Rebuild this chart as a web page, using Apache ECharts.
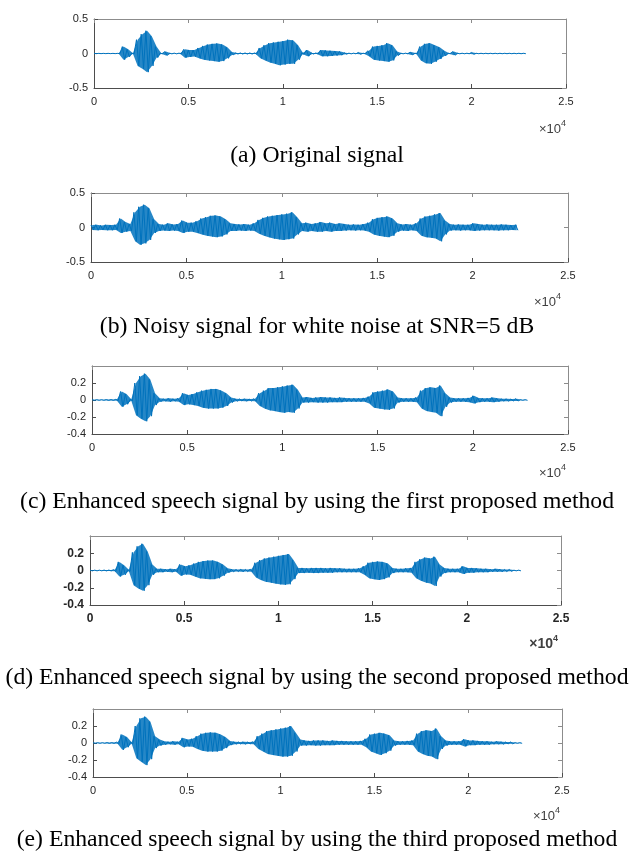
<!DOCTYPE html>
<html>
<head>
<meta charset="utf-8">
<script src="https://cdn.jsdelivr.net/npm/echarts@6/dist/echarts.min.js"></script>
<style>
  html, body { margin: 0; padding: 0; background: #fff; }
  #main { width: 632px; height: 852px; }
</style>
</head>
<body>
<div id="main"></div>
<script>
// envelope of each waveform, one value per block of BIN samples (max then min)
var BIN = 250;

var hiA = [.002,.002,.002,.002,.002,.002, .10,.06,.005, .20,.28,.33,.25,.10,
  .005,.03,.005,.005,.005, .06,.05,.05,.08,.11,.13,.14,.145,.13,.09,.02,
  .008,.008,.008,.008,.008, .08,.12,.15,.16,.17,.18,.20,.19,.12,
  .01,.05,.008,.008, .05,.045,.04,.035,.03,.01, .005,.005,.015,.005,
  .04,.10,.11,.12,.15,.12,.03, .005,.005,.02,.005, .10,.14,.15,.12,.09,.04,
  .005,.03,.004,.004,.004,.015, .003,.003,.003,.003,.003,.003,.003,.003,.003,.003,.003];
var loA = [-.002,-.002,-.002,-.002,-.002,-.002, -.09,-.05,-.005, -.18,-.22,-.27,-.18,-.06,
  -.005,-.03,-.005,-.005,-.005, -.06,-.05,-.045,-.07,-.09,-.10,-.11,-.12,-.11,-.07,-.02,
  -.008,-.008,-.008,-.008,-.008, -.07,-.10,-.13,-.15,-.17,-.16,-.15,-.15,-.09,
  -.01,-.04,-.008,-.008, -.04,-.04,-.035,-.03,-.025,-.01, -.005,-.005,-.012,-.005,
  -.04,-.09,-.10,-.11,-.12,-.10,-.03, -.005,-.005,-.02,-.005, -.10,-.14,-.15,-.12,-.08,-.035,
  -.005,-.025,-.004,-.004,-.004,-.012, -.003,-.003,-.003,-.003,-.003,-.003,-.003,-.003,-.003,-.003,-.003];

var hiB = [.035,.04,.03,.04,.035,.04, .13,.08, .05, .22,.30,.33,.28,.12,
  .05,.04,.06,.045,.05, .10,.07,.07,.09,.13,.15,.17,.175,.16,.12,.06,
  .05,.045,.05,.04,.06, .11,.14,.16,.17,.18,.19,.20,.22,.15,
  .06,.07,.05,.06, .08,.06,.07,.05,.06,.05, .04,.045,.04,.05,
  .07,.12,.14,.15,.16,.13,.06, .045,.05,.04,.06, .13,.16,.17,.19,.21,.10,
  .05,.04,.045,.04,.04,.06, .05,.04,.045,.04,.04,.045,.04,.035,.04];
var loB = [-.035,-.04,-.035,-.04,-.04,-.035, -.08,-.06, -.05, -.20,-.25,-.23,-.18,-.08,
  -.05,-.045,-.05,-.045,-.05, -.08,-.06,-.06,-.08,-.10,-.12,-.13,-.14,-.13,-.10,-.05,
  -.05,-.045,-.05,-.045,-.05, -.09,-.12,-.14,-.16,-.17,-.18,-.17,-.16,-.10,
  -.05,-.06,-.05,-.06, -.06,-.05,-.06,-.05,-.05,-.045, -.04,-.045,-.04,-.045,
  -.06,-.10,-.12,-.13,-.14,-.12,-.06, -.045,-.05,-.04,-.05, -.12,-.14,-.15,-.16,-.20,-.10,
  -.045,-.04,-.045,-.04,-.04,-.05, -.045,-.04,-.04,-.04,-.045,-.04,-.04,-.035,-.04];

var hiC = [.004,.004,.004,.005,.005,.008, .10,.07,.01, .20,.28,.31,.24,.08,
  .02,.015,.02,.015,.02, .08,.06,.07,.09,.11,.12,.13,.13,.11,.08,.03,
  .015,.012,.015,.012,.015, .08,.11,.14,.14,.15,.16,.17,.18,.12,
  .03,.035,.025,.03, .035,.03,.03,.025,.03,.025, .02,.02,.02,.025,
  .04,.09,.10,.11,.125,.10,.03, .02,.02,.02,.03, .11,.14,.15,.14,.17,.08,
  .03,.02,.02,.02,.025,.05, .025,.02,.02,.03,.02,.015,.015,.012,.015,.004,.004];
var loC = [-.004,-.004,-.004,-.005,-.005,-.008, -.08,-.05,-.01, -.18,-.22,-.25,-.19,-.06,
  -.02,-.015,-.02,-.015,-.02, -.06,-.05,-.06,-.07,-.09,-.10,-.10,-.10,-.09,-.07,-.03,
  -.015,-.012,-.015,-.012,-.015, -.07,-.10,-.12,-.13,-.14,-.15,-.14,-.15,-.10,
  -.03,-.03,-.025,-.03, -.03,-.03,-.025,-.025,-.025,-.02, -.02,-.02,-.02,-.02,
  -.04,-.09,-.10,-.11,-.115,-.10,-.03, -.02,-.02,-.02,-.025, -.10,-.13,-.14,-.15,-.19,-.08,
  -.03,-.02,-.02,-.02,-.025,-.04, -.025,-.02,-.02,-.025,-.02,-.015,-.015,-.012,-.012,-.004,-.004];

var hiD = [.004,.004,.004,.005,.005,.01, .10,.06,.01, .21,.28,.31,.22,.07,
  .02,.02,.015,.02,.015, .07,.05,.06,.08,.10,.11,.115,.115,.10,.07,.025,
  .015,.012,.015,.012,.015, .09,.12,.14,.15,.16,.17,.18,.19,.12,
  .03,.03,.025,.03, .03,.03,.025,.03,.025,.025, .02,.02,.02,.025,
  .05,.09,.10,.105,.10,.08,.03, .02,.02,.025,.03, .10,.13,.15,.14,.16,.07,
  .03,.02,.02,.02,.05,.03, .03,.025,.02,.02,.015,.02,.015,.012,.012,.004,.004];
var loD = [-.004,-.004,-.004,-.005,-.005,-.01, -.07,-.05,-.01, -.17,-.21,-.235,-.17,-.05,
  -.02,-.02,-.015,-.02,-.015, -.06,-.045,-.05,-.07,-.09,-.095,-.10,-.10,-.09,-.06,-.025,
  -.015,-.012,-.015,-.012,-.015, -.08,-.11,-.13,-.14,-.15,-.16,-.165,-.16,-.10,
  -.03,-.03,-.025,-.03, -.03,-.025,-.025,-.025,-.02,-.02, -.02,-.02,-.02,-.02,
  -.05,-.09,-.10,-.11,-.10,-.08,-.03, -.02,-.02,-.02,-.025, -.09,-.12,-.14,-.15,-.18,-.07,
  -.03,-.02,-.02,-.02,-.04,-.025, -.025,-.02,-.02,-.02,-.015,-.015,-.015,-.012,-.01,-.004,-.004];

var hiE = [.004,.004,.004,.005,.005,.01, .10,.07,.01, .20,.29,.31,.25,.08,
  .04,.02,.015,.02,.015, .06,.04,.05,.08,.11,.12,.125,.12,.10,.07,.025,
  .015,.012,.015,.012,.015, .08,.11,.14,.15,.16,.17,.18,.20,.12,
  .04,.03,.025,.03, .03,.03,.025,.03,.025,.025, .02,.02,.02,.025,
  .05,.10,.11,.12,.11,.09,.03, .02,.02,.025,.03, .11,.14,.15,.14,.17,.08,
  .03,.02,.02,.02,.045,.03, .03,.025,.02,.02,.015,.02,.015,.012,.012,.004,.004];
var loE = [-.004,-.004,-.004,-.005,-.005,-.01, -.08,-.05,-.01, -.18,-.22,-.26,-.19,-.06,
  -.03,-.02,-.015,-.02,-.015, -.05,-.04,-.045,-.07,-.09,-.10,-.10,-.10,-.09,-.06,-.025,
  -.015,-.012,-.015,-.012,-.015, -.07,-.10,-.13,-.14,-.15,-.16,-.16,-.15,-.10,
  -.03,-.03,-.025,-.03, -.03,-.025,-.025,-.025,-.02,-.02, -.02,-.02,-.02,-.02,
  -.05,-.10,-.12,-.14,-.12,-.09,-.03, -.02,-.02,-.02,-.025, -.10,-.13,-.15,-.16,-.19,-.07,
  -.03,-.02,-.02,-.02,-.04,-.025, -.025,-.02,-.02,-.02,-.015,-.015,-.015,-.012,-.01,-.004,-.004];

var captions = [
  '(a) Original signal',
  '(b) Noisy signal for white noise at SNR=5 dB',
  '(c) Enhanced speech signal by using the first proposed method',
  '(d) Enhanced speech signal by using the second proposed method',
  '(e) Enhanced speech signal by using the third proposed method'
];
var xTicks = [0, 5000, 10000, 15000, 20000, 25000];
var yTicksWide = [-0.5, 0, 0.5];
var yTicksNarrow = [-0.4, -0.2, 0, 0.2, 0.4];

(function(){
    var myChart = echarts.init(document.getElementById('main'));
    var BLUE = '#0072BD';
    var SANS = '"Liberation Sans", Arial, Helvetica, sans-serif';
    var SERIF = '"Liberation Serif", "Times New Roman", serif';

    var panels = [
        {hi: hiA, lo: loA, grid: {left: 94, top: 19, width: 472, height: 69}, y: yTicksWide, cap: 156, exp: [66, 119], bold: false},
        {hi: hiB, lo: loB, grid: {left: 91, top: 193, width: 477, height: 69}, y: yTicksWide, cap: 327, exp: [71, 292], bold: false},
        {hi: hiC, lo: loC, grid: {left: 92, top: 366, width: 476, height: 68}, y: yTicksNarrow, cap: 502, exp: [66, 463], bold: false},
        {hi: hiD, lo: loD, grid: {left: 90, top: 536, width: 471, height: 69}, y: yTicksNarrow, cap: 678, exp: [74, 634], bold: true},
        {hi: hiE, lo: loE, grid: {left: 93, top: 709, width: 469, height: 68}, y: yTicksNarrow, cap: 840, exp: [72, 806], bold: false}
    ];

    // zig-zag between the max and min of every block
    function wave(hi, lo) {
        var pts = [];
        for (var k = 0; k < hi.length; k++) {
            pts.push([k * BIN, hi[k]]);
            pts.push([k * BIN + BIN / 2, lo[k]]);
        }
        return pts;
    }

    // filled envelope polygon, placed through the axes of the series
    function envelope(hi, lo) {
        return function(params, api) {
            var pts = [], k;
            for (k = 0; k < hi.length; k++) pts.push(api.coord([k * BIN + BIN / 4, hi[k]]));
            for (k = lo.length - 1; k >= 0; k--) pts.push(api.coord([k * BIN + BIN / 4, lo[k]]));
            return {type: 'polygon', shape: {points: pts}, style: {fill: BLUE, opacity: 0.85}};
        };
    }

    var grid = [], xAxis = [], yAxis = [], series = [], title = [], graphic = [];

    panels.forEach(function(p, i){
        var fw = p.bold ? 'bold' : 'normal';
        var fs = p.bold ? 12 : 11;
        var ymin = p.y[0], ymax = p.y[p.y.length - 1], yint = p.y[1] - p.y[0];
        grid.push(p.grid);

        xAxis.push({
            type: 'value', gridIndex: i, min: xTicks[0], max: xTicks[xTicks.length - 1],
            interval: xTicks[1] - xTicks[0],
            axisLine: {onZero: false, lineStyle: {color: '#4d4d4d', width: 1}},
            axisTick: {inside: true, length: 4, lineStyle: {color: '#4d4d4d'}},
            splitLine: {show: false},
            axisLabel: {margin: 8, color: '#262626', fontSize: fs, fontWeight: fw, fontFamily: SANS,
                formatter: function(v){ return String(v / 10000); }}
        });
        xAxis.push({
            type: 'value', gridIndex: i, position: 'top', min: xTicks[0], max: xTicks[xTicks.length - 1],
            interval: xTicks[1] - xTicks[0],
            axisLine: {onZero: false, lineStyle: {color: '#8c8c8c', width: 1}},
            axisTick: {inside: true, length: 4, lineStyle: {color: '#8c8c8c'}},
            splitLine: {show: false},
            axisLabel: {show: false}
        });
        yAxis.push({
            type: 'value', gridIndex: i, min: ymin, max: ymax, interval: yint,
            axisLine: {show: true, onZero: false, lineStyle: {color: '#4d4d4d', width: 1}},
            axisTick: {show: true, inside: true, length: 4, lineStyle: {color: '#4d4d4d'}},
            splitLine: {show: false},
            axisLabel: {margin: 6, color: '#262626', fontSize: fs, fontWeight: fw, fontFamily: SANS,
                showMaxLabel: p.y.length < 4,
                formatter: function(v){ return String(Math.round(v * 10) / 10); }}
        });
        yAxis.push({
            type: 'value', gridIndex: i, position: 'right', min: ymin, max: ymax, interval: yint,
            axisLine: {show: true, onZero: false, lineStyle: {color: '#8c8c8c', width: 1}},
            axisTick: {show: true, inside: true, length: 4, lineStyle: {color: '#8c8c8c'}},
            splitLine: {show: false},
            axisLabel: {show: false}
        });

        series.push({
            type: 'custom', coordinateSystem: 'cartesian2d',
            xAxisIndex: 2 * i, yAxisIndex: 2 * i,
            data: [[0, 0]], silent: true, clip: true,
            renderItem: envelope(p.hi, p.lo)
        });
        series.push({
            type: 'line', xAxisIndex: 2 * i, yAxisIndex: 2 * i,
            data: wave(p.hi, p.lo),
            symbol: 'none', silent: true,
            lineStyle: {color: BLUE, width: 1}
        });

        title.push({
            text: '{m|×10}{s|4}', right: p.exp[0], top: p.exp[1], padding: 0,
            textStyle: {
                rich: {
                    m: {fontSize: fs + 2, fontWeight: fw, color: '#404040', fontFamily: SANS, verticalAlign: 'bottom'},
                    s: {fontSize: 9, fontWeight: fw, color: '#404040', fontFamily: SANS, padding: [0, 0, 8, 0], verticalAlign: 'bottom'}
                }
            }
        });

        graphic.push({
            type: 'text', x: 317, y: p.cap,
            style: {text: captions[i], fill: '#000', font: '23.7px ' + SERIF, align: 'center', verticalAlign: 'middle'}
        });
    });

    var option = {
        animation: false,
        backgroundColor: '#fff',
        title: title,
        grid: grid,
        xAxis: xAxis,
        yAxis: yAxis,
        series: series,
        graphic: graphic
    };

    myChart.setOption(option);
    window.addEventListener('resize', function(){
        myChart.resize();
    });
})();
</script>
</body>
</html>
